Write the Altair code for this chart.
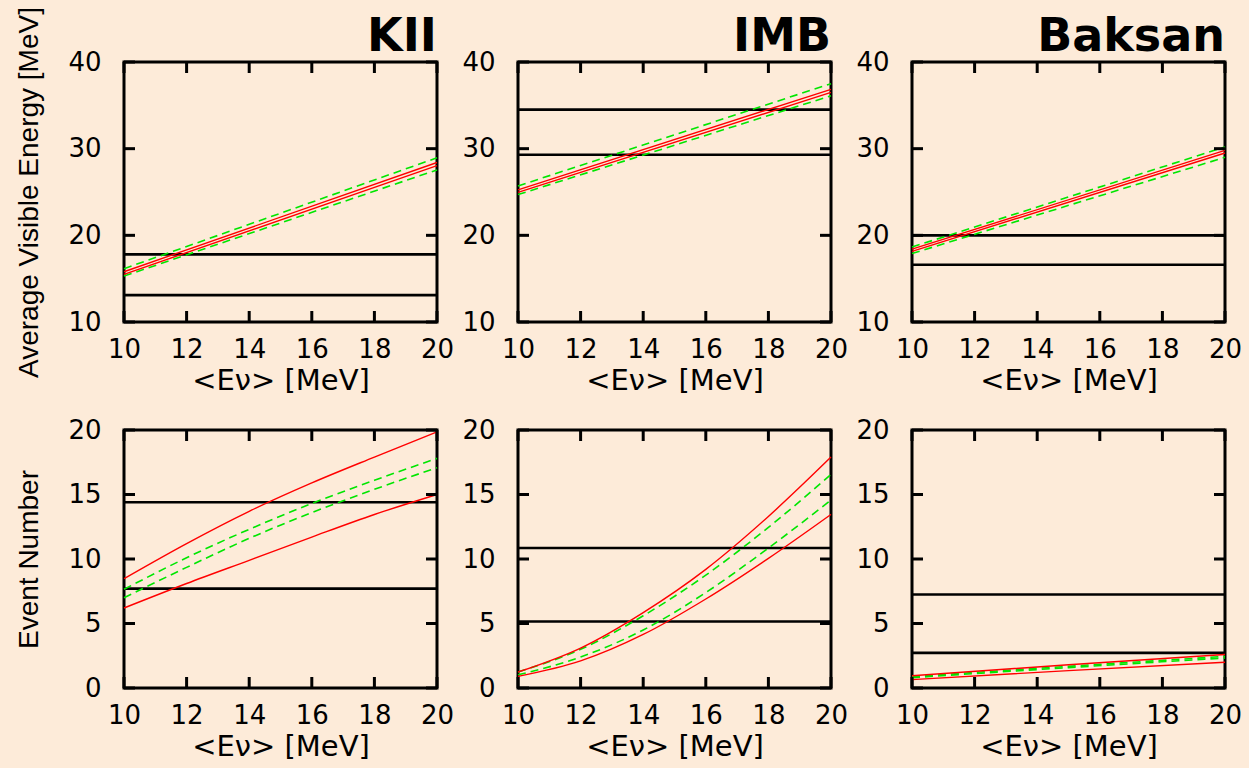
import altair as alt
import pandas as pd

BG = "#fdebd9"
RED = "#ff0000"
GREEN = "#00e600"

detectors = ["KII", "IMB", "Baksan"]

# ---- top row: average visible energy [MeV] vs <E_nu> ----
top_E = [10, 20]
top_red_hi = {"KII": [15.8, 28.4], "IMB": [25.25, 36.85], "Baksan": [18.4, 29.8]}
top_red_lo = {"KII": [15.5, 28.05], "IMB": [24.95, 36.5], "Baksan": [18.15, 29.5]}
top_green_hi = {"KII": [16.15, 28.95], "IMB": [25.7, 37.5], "Baksan": [18.65, 30.2]}
top_green_lo = {"KII": [15.3, 27.55], "IMB": [24.7, 36.1], "Baksan": [17.9, 29.0]}
top_obs = {"KII": [17.8, 13.1], "IMB": [34.5, 29.3], "Baksan": [20.0, 16.6]}

# ---- bottom row: event number vs <E_nu> ----
bot_E = {"KII": [10, 12, 14, 16, 18, 20],
         "IMB": [10, 12, 14, 16, 18, 20],
         "Baksan": [10, 15, 20]}
bot_red_hi = {"KII": [8.48, 11.2, 13.7, 15.9, 17.9, 19.85],
              "IMB": [1.24, 3.1, 5.85, 9.2, 13.3, 17.9],
              "Baksan": [0.95, 1.8, 2.6]}
bot_red_lo = {"KII": [6.2, 8.1, 9.9, 11.7, 13.45, 15.0],
              "IMB": [0.9, 2.1, 4.15, 6.9, 10.05, 13.46],
              "Baksan": [0.65, 1.35, 2.0]}
bot_green_hi = {"KII": [7.65, 10.1, 12.3, 14.3, 16.1, 17.8],
                "IMB": [1.24, 3.0, 5.6, 8.75, 12.45, 16.56],
                "Baksan": [0.88, 1.68, 2.45]}
bot_green_lo = {"KII": [7.0, 9.35, 11.6, 13.6, 15.4, 17.08],
                "IMB": [1.02, 2.4, 4.5, 7.4, 10.85, 14.57],
                "Baksan": [0.8, 1.58, 2.33]}
bot_obs = {"KII": [14.4, 7.7], "IMB": [10.85, 5.15], "Baksan": [7.25, 2.72]}

x_ticks = [10, 12, 14, 16, 18, 20]
top_y_ticks = [10, 20, 30, 40]
bot_y_ticks = [0, 5, 10, 15, 20]

W = 313
H_TOP = 260
H_BOT = 258
TICK = 11


def panel(xs_list, red_hi, red_lo, g_hi, g_lo, obs, ydom, yticks, ytitle, title, H, curve):
    rows = []
    for s, vals in (("rh", red_hi), ("rl", red_lo), ("gh", g_hi), ("gl", g_lo)):
        for e, v in zip(xs_list, vals):
            rows.append({"E": e, "v": v, "s": s, "kind": "red" if s[0] == "r" else "green"})
    df = pd.DataFrame(rows)

    xscale = alt.Scale(domain=[10, 20], nice=False, zero=False)
    yscale = alt.Scale(domain=ydom, nice=False, zero=False)
    xaxis = alt.Axis(values=x_ticks, title="<Eν> [MeV]", ticks=False, domain=False, grid=False,
                     labelFont="DejaVu Sans", labelFontSize=26, labelPadding=14, labelColor="black",
                     labelFlush=False, labelOverlap=False,
                     titleFont="DejaVu Sans", titleFontSize=29, titleFontWeight="normal",
                     titleColor="black", titlePadding=4)
    yaxis = alt.Axis(values=yticks, title=ytitle if ytitle else "", ticks=False, domain=False, grid=False,
                     labelFont="DejaVu Sans", labelFontSize=26, labelPadding=23, labelColor="black",
                     labelFlush=False, labelOverlap=False,
                     titleFont="Liberation Sans", titleFontSize=28, titleFontWeight="normal",
                     titleColor="black", titlePadding=24)
    X = alt.X("E:Q", scale=xscale, axis=xaxis)
    Y = alt.Y("v:Q", scale=yscale, axis=yaxis)

    base = alt.Chart(df)
    red = base.transform_filter(alt.datum.kind == "red").mark_line(
        color=RED, strokeWidth=1.4, interpolate=curve).encode(x=X, y=Y, detail="s:N")
    green = base.transform_filter(alt.datum.kind == "green").mark_line(
        color=GREEN, strokeWidth=1.6, strokeDash=[8, 5], interpolate=curve).encode(x=X, y=Y, detail="s:N")

    obs_df = pd.DataFrame({"v": obs})
    black = alt.Chart(obs_df).mark_rule(color="black", strokeWidth=2.6).encode(y=Y)

    xt = pd.DataFrame({"E": x_ticks})
    yt = pd.DataFrame({"v": yticks})
    tick_style = dict(color="black", strokeWidth=3)
    xt_bot = alt.Chart(xt).mark_rule(**tick_style).encode(x=X, y=alt.value(H), y2=alt.value(H - TICK))
    xt_top = alt.Chart(xt).mark_rule(**tick_style).encode(x=X, y=alt.value(0), y2=alt.value(TICK))
    yt_left = alt.Chart(yt).mark_rule(**tick_style).encode(y=Y, x=alt.value(0), x2=alt.value(TICK))
    yt_right = alt.Chart(yt).mark_rule(**tick_style).encode(y=Y, x=alt.value(W - TICK), x2=alt.value(W))

    layers = [black, green, red, xt_bot, xt_top, yt_left, yt_right]
    if title:
        tdf = pd.DataFrame({"t": [title]})
        layers.append(alt.Chart(tdf).mark_text(
            align="right", baseline="alphabetic", font="DejaVu Sans", fontSize=46,
            fontWeight="bold", color="black").encode(
            x=alt.value(W), y=alt.value(-11), text="t:N"))
    return alt.layer(*layers).properties(width=W, height=H)


panels = []
for i, d in enumerate(detectors):
    panels.append(panel(top_E, top_red_hi[d], top_red_lo[d], top_green_hi[d], top_green_lo[d],
                        top_obs[d], [10, 40], top_y_ticks,
                        "Average Visible Energy [MeV]" if i == 0 else None, d, H_TOP, "linear"))
for i, d in enumerate(detectors):
    panels.append(panel(bot_E[d], bot_red_hi[d], bot_red_lo[d], bot_green_hi[d], bot_green_lo[d],
                        bot_obs[d], [0, 20], bot_y_ticks,
                        "Event Number" if i == 0 else None, None, H_BOT, "monotone"))

chart = alt.concat(
    *panels, columns=3, spacing={"row": 108, "column": 81}, bounds="flush",
).properties(
    background=BG,
    padding={"left": 14, "top": 5, "right": 5, "bottom": 5},
).configure_view(
    stroke="black", strokeWidth=3, fill=BG
)

chart.save("out.html", embed_options={"renderer": "svg", "actions": False})
